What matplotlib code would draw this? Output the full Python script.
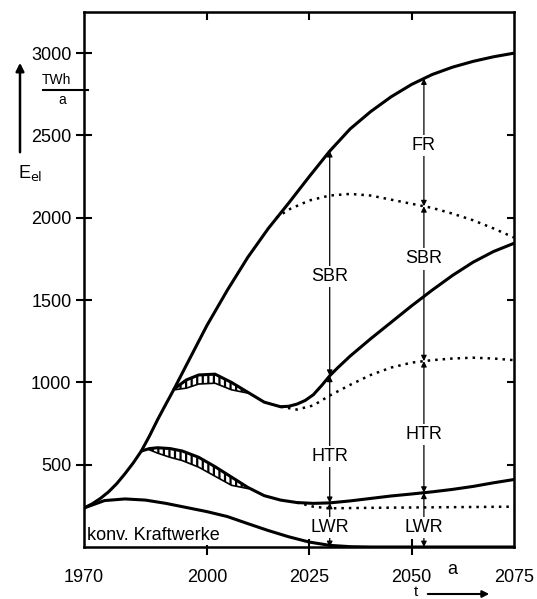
import numpy as np
import matplotlib.pyplot as plt
from matplotlib.lines import Line2D

plt.rcParams['font.family'] = ['Liberation Sans', 'DejaVu Sans']
plt.rcParams['hatch.linewidth'] = 1.6

# Gesamtbedarf an elektrischer Energie (TWh/a)
years_total = [1970, 1972, 1974, 1976, 1978, 1980, 1982, 1984, 1986, 1988, 1990, 1992,
               1995, 2000, 2005, 2010, 2015, 2020, 2025, 2030, 2035, 2040, 2045, 2050,
               2055, 2060, 2065, 2070, 2075]
total = [237, 262, 295, 335, 385, 445, 510, 583, 675, 775, 868, 960,
         1105, 1345, 1560, 1760, 1935, 2090, 2250, 2405, 2540, 2645, 2735, 2810,
         2870, 2915, 2950, 2978, 3000]

# Grenze FR / SBR (punktiert)
years_fr = [2017, 2020, 2025, 2030, 2035, 2040, 2045, 2050, 2055, 2060, 2065, 2070, 2075]
fr_limit = [2000, 2050, 2105, 2135, 2145, 2135, 2110, 2085, 2060, 2025, 1985, 1935, 1880]

# Grenze SBR / HTR
years_sbr = [1992, 1995, 1998, 2002, 2006, 2010, 2014, 2018, 2020, 2022, 2024, 2026,
             2028, 2030, 2032, 2035, 2040, 2045, 2050, 2055, 2060, 2065, 2070, 2075]
sbr_limit = [960, 1015, 1045, 1050, 1000, 940, 880, 852, 855, 868, 890, 925,
             980, 1040, 1090, 1160, 1265, 1365, 1465, 1560, 1650, 1730, 1795, 1845]

# alternative Grenze SBR / HTR (punktiert)
years_sbr_alt = [2018, 2022, 2026, 2030, 2035, 2040, 2045, 2050, 2055, 2060, 2065, 2070, 2075]
sbr_alt = [852, 835, 860, 920, 985, 1045, 1090, 1120, 1135, 1145, 1150, 1145, 1135]

# Grenze HTR / LWR
years_htr = [1984, 1986, 1988, 1991, 1994, 1998, 2002, 2006, 2010, 2014, 2018, 2022,
             2026, 2030, 2035, 2040, 2045, 2050, 2055, 2060, 2065, 2070, 2075]
htr_limit = [583, 598, 603, 598, 583, 545, 488, 425, 362, 312, 285, 270,
             265, 268, 280, 295, 310, 322, 335, 350, 368, 390, 410]

# alternative Grenze HTR / LWR (punktiert)
years_lwr_alt = [2022, 2026, 2030, 2040, 2050, 2060, 2075]
lwr_alt = [270, 245, 235, 238, 240, 242, 245]

# konventionelle Kraftwerke
years_konv = [1970, 1975, 1980, 1985, 1990, 1995, 2000, 2005, 2010, 2015, 2020,
              2025, 2030, 2035, 2040, 2075]
konv = [237, 282, 292, 285, 265, 240, 215, 185, 142, 100, 62, 30, 10, 2, 0, 0]

# schraffierte Unsicherheitsbaender
band1_years = [1992, 1995, 1998, 2002, 2006, 2010]
band1_hi = [960, 1015, 1045, 1050, 1000, 940]
band1_lo = [955, 965, 990, 995, 955, 935]
band2_years = [1986, 1988, 1991, 1994, 1998, 2002, 2006, 2010]
band2_hi = [598, 603, 598, 583, 545, 488, 425, 362]
band2_lo = [590, 570, 545, 525, 485, 430, 375, 355]

fig = plt.figure(figsize=(5.37, 5.99), dpi=100)
ax = fig.add_axes([84 / 537, 1 - 547 / 599, 430 / 537, 535 / 599])

solid = dict(color='black', lw=2.2, solid_joinstyle='round', solid_capstyle='round')
dotted = dict(color='black', lw=1.8, linestyle=(0, (1, 2)))

ax.plot(years_total, total, **solid)
ax.plot(years_sbr, sbr_limit, **solid)
ax.plot(years_htr, htr_limit, **solid)
ax.plot(years_konv, konv, **solid)
ax.plot(years_fr, fr_limit, **dotted)
ax.plot(years_sbr_alt, sbr_alt, **dotted)
ax.plot(years_lwr_alt, lwr_alt, **dotted)

for yrs, lo, hi in [(band1_years, band1_lo, band1_hi), (band2_years, band2_lo, band2_hi)]:
    ax.fill_between(yrs, lo, hi, facecolor='none', edgecolor='black', hatch='|||', linewidth=0)
    ax.plot(yrs, lo, color='black', lw=1.2)


def curve(x, yrs, vals):
    return float(np.interp(x, yrs, vals))


def span(x, y0, y1):
    ax.annotate('', xy=(x, y1), xytext=(x, y0),
                arrowprops=dict(arrowstyle='<|-|>', color='black', lw=0.9,
                                mutation_scale=8, shrinkA=0, shrinkB=0))


# Anteile der Reaktortypen im Jahr 2030
x1 = 2030
span(x1, curve(x1, years_total, total), curve(x1, years_sbr, sbr_limit))
span(x1, curve(x1, years_sbr, sbr_limit), curve(x1, years_htr, htr_limit))
span(x1, curve(x1, years_htr, htr_limit), 0)

# Anteile der Reaktortypen im Jahr 2053
x2 = 2053
span(x2, curve(x2, years_total, total), curve(x2, years_fr, fr_limit))
span(x2, curve(x2, years_fr, fr_limit), curve(x2, years_sbr_alt, sbr_alt))
span(x2, curve(x2, years_sbr_alt, sbr_alt), curve(x2, years_htr, htr_limit))
span(x2, curve(x2, years_htr, htr_limit), 0)

lab = dict(ha='center', va='center', fontsize=13, zorder=5,
           bbox=dict(facecolor='white', edgecolor='none', pad=1.5))
ax.text(x1, 1645, 'SBR', **lab)
ax.text(x1, 550, 'HTR', **lab)
ax.text(x1, 120, 'LWR', **lab)
ax.text(x2, 2440, 'FR', **lab)
ax.text(x2, 1750, 'SBR', **lab)
ax.text(x2, 685, 'HTR', **lab)
ax.text(x2, 120, 'LWR', **lab)
ax.text(1970.8, 70, 'konv. Kraftwerke', ha='left', va='center', fontsize=13,
        bbox=dict(facecolor='white', edgecolor='none', pad=0.5), zorder=4)

ax.set_xlim(1970, 2075)
ax.set_ylim(0, 3250)
ax.set_xticks([1970, 2000, 2025, 2050, 2075])
ax.set_xticklabels(['1970', '2000', '2025', '2050', '2075'])
ax.set_yticks([500, 1000, 1500, 2000, 2500, 3000])
ax.tick_params(axis='both', direction='inout', length=12, width=1.5, labelsize=13)
ax.tick_params(axis='x', pad=10)
ax.tick_params(axis='y', pad=3)
for t in (ax.xaxis.get_major_ticks()[0], ax.xaxis.get_major_ticks()[-1]):
    t.tick1line.set_visible(False)
for s in ax.spines.values():
    s.set_linewidth(1.8)

top = ax.secondary_xaxis('top')
top.set_xticks([2000, 2025, 2050])
top.tick_params(direction='in', length=6, width=1.5, labeltop=False)
right = ax.secondary_yaxis('right')
right.set_yticks([500, 1000, 1500, 2000, 2500])
right.tick_params(direction='in', length=5, width=1.5, labelright=False)

# Achsenbeschriftung y
ax.annotate('', xy=(20 / 537, 1 - 60 / 599), xytext=(20 / 537, 1 - 155 / 599),
            xycoords='figure fraction',
            arrowprops=dict(arrowstyle='-|>', color='black', lw=1.8, mutation_scale=12))
fig.text(18 / 537, 1 - 173 / 599, r'E$_{\mathrm{el}}$', fontsize=13, ha='left', va='center')
fig.text(56 / 537, 1 - 80 / 599, 'TWh', fontsize=10, ha='center', va='center')
fig.add_artist(Line2D([43 / 537, 88 / 537], [1 - 90 / 599, 1 - 90 / 599], lw=1.5, color='black'))
fig.text(62 / 537, 1 - 100 / 599, 'a', fontsize=10, ha='center', va='center')

# Achsenbeschriftung x
fig.text(452 / 537, 1 - 570 / 599, 'a', fontsize=13, ha='center', va='center')
fig.text(416 / 537, 1 - 592 / 599, 't', fontsize=11, ha='center', va='center')
ax.annotate('', xy=(492 / 537, 1 - 594 / 599), xytext=(425 / 537, 1 - 594 / 599),
            xycoords='figure fraction',
            arrowprops=dict(arrowstyle='-|>', color='black', lw=1.5, mutation_scale=10))

fig.savefig('out.png', dpi=100)
